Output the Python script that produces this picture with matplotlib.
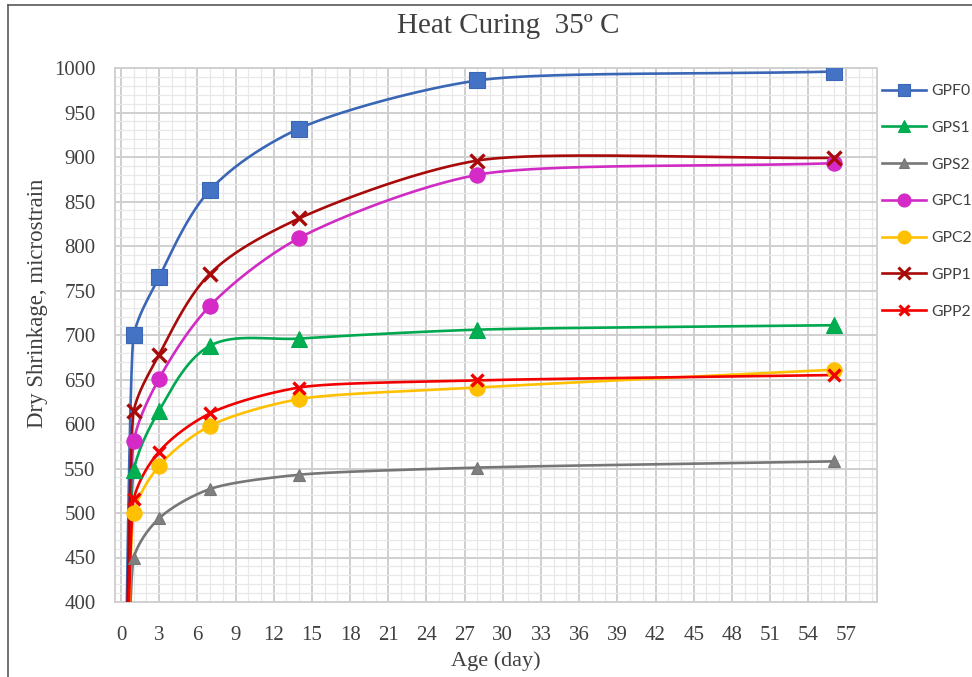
import numpy as np
import matplotlib
matplotlib.use("Agg")
import matplotlib.pyplot as plt
from matplotlib.ticker import MultipleLocator
from matplotlib.lines import Line2D

# ---- data ----
days = [0, 1, 3, 7, 14, 28, 56]
GPF0 = [0, 700, 765, 863, 932, 986, 996]
GPS1 = [0, 548, 615, 688, 696, 706, 711]
GPS2 = [0, 450, 494, 527, 543, 551, 558]
GPC1 = [0, 581, 651, 733, 809, 880, 893]
GPC2 = [0, 500, 553, 598, 628, 641, 661]
GPP1 = [0, 615, 678, 769, 831, 896, 899]
GPP2 = [0, 516, 569, 612, 641, 649, 655]

series_names = ["GPF0", "GPS1", "GPS2", "GPC1", "GPC2", "GPP1", "GPP2"]
series_vals = [GPF0, GPS1, GPS2, GPC1, GPC2, GPP1, GPP2]
line_colors = ["#3A66B6", "#00A84F", "#767676", "#D02CC4", "#FFC000", "#A80A0A", "#F20000"]
face_colors = ["#4472C4", "#00B050", "#7F7F7F", "#D62AC8", "#FFC000", "#A80A0A", "#F20000"]
markers = ["s", "^", "^", "o", "o", "x", "x"]
msizes = [11, 11, 9, 11, 11, 10, 9]

title = "Heat Curing  35º C"
xlabel = "Age (day)"
ylabel = "Dry Shrinkage, microstrain"

XLIM = (-0.47, 59.4)
YLIM = (400, 1000)
AX_W_PX, AX_H_PX = 762, 534


def smooth(xs, ys, n=80, k=1.0 / 3.0):
    """Excel-like smoothed line, computed in screen-proportional space."""
    kx = AX_W_PX / (XLIM[1] - XLIM[0])
    ky = AX_H_PX / (YLIM[1] - YLIM[0])
    P = np.column_stack([np.asarray(xs, float) * kx, np.asarray(ys, float) * ky])
    m = len(P)
    seg = [P[i + 1] - P[i] for i in range(m - 1)]
    slen = [np.linalg.norm(s) for s in seg]
    unit = [s / l for s, l in zip(seg, slen)]
    tang = []
    for i in range(m):
        if i == 0:
            d = unit[0]
        elif i == m - 1:
            d = unit[-1]
        else:
            d = unit[i - 1] + unit[i]
        tang.append(d / np.linalg.norm(d))

    def clen(i, s):
        # control length at point i for segment s
        if i == 0 or i == m - 1:
            return k * slen[s]
        return k * min(slen[i - 1], slen[i])

    out = []
    for i in range(m - 1):
        p1, p2 = P[i], P[i + 1]
        c1 = p1 + tang[i] * clen(i, i)
        c2 = p2 - tang[i + 1] * clen(i + 1, i)
        t = np.linspace(0, 1, n)[:, None]
        b = ((1 - t) ** 3) * p1 + 3 * ((1 - t) ** 2) * t * c1 + 3 * (1 - t) * t ** 2 * c2 + t ** 3 * p2
        out.append(b if i == 0 else b[1:])
    B = np.vstack(out)
    return B[:, 0] / kx, B[:, 1] / ky


plt.rcParams["font.family"] = ["Liberation Serif", "DejaVu Serif"]

fig = plt.figure(figsize=(9.72, 6.77), dpi=100)
ax = fig.add_axes([115 / 972, 1 - 602 / 677, AX_W_PX / 972, AX_H_PX / 677])

for name, vals, lc, fc, mk, ms in zip(series_names, series_vals, line_colors, face_colors, markers, msizes):
    sx, sy = smooth(days, vals)
    ax.plot(sx, sy, color=lc, lw=1.9, solid_capstyle="round", zorder=3)
    if mk == "x":
        ax.plot(days[1:], vals[1:], ls="none", marker=mk, ms=ms, mew=2.4, color=fc, zorder=4)
    else:
        ax.plot(days[1:], vals[1:], ls="none", marker=mk, ms=ms, mfc=fc, mec=lc, mew=0.8, zorder=4)

ax.set_xlim(*XLIM)
ax.set_ylim(*YLIM)
ax.xaxis.set_major_locator(MultipleLocator(3))
ax.xaxis.set_minor_locator(MultipleLocator(1))
ax.yaxis.set_major_locator(MultipleLocator(50))
ax.yaxis.set_minor_locator(MultipleLocator(10))
ax.grid(which="major", color="#CFCFCF", lw=1.4, zorder=0)
ax.grid(which="minor", color="#E8E8E8", lw=0.9, zorder=0)
ax.set_axisbelow(True)
ax.tick_params(which="both", length=0)
ax.tick_params(axis="x", labelsize=15, pad=17, colors="#404040")
ax.tick_params(axis="y", labelsize=15, pad=14, colors="#404040")
for s in ax.spines.values():
    s.set_color("#D0D0D0")
    s.set_linewidth(1.4)

ax.set_xlabel(xlabel, fontsize=16, color="#404040", labelpad=5)
ax.set_ylabel(ylabel, fontsize=16.5, color="#404040")
ax.yaxis.set_label_coords((48 - 115) / AX_W_PX, (602 - 303) / AX_H_PX)
fig.text(508 / 972, 1 - 26 / 677, title, ha="center", va="center", fontsize=21, color="#404040")

handles = []
for name, lc, fc, mk, ms in zip(series_names, line_colors, face_colors, markers, msizes):
    if mk == "x":
        h = Line2D([], [], color=lc, lw=1.9, marker=mk, ms=ms * 0.8, mew=2.2, mec=fc)
    else:
        h = Line2D([], [], color=lc, lw=1.9, marker=mk, ms=ms * 0.85, mfc=fc, mec=lc, mew=0.8)
    handles.append(h)
fig.legend(handles, series_names, loc="upper left", bbox_to_anchor=(882 / 972, 1 - 84 / 677),
           frameon=False, borderpad=0, borderaxespad=0, handlelength=2.8, handletextpad=0.35,
           labelspacing=1.45, prop={"family": ["Lato", "DejaVu Sans"], "size": 11.3},
           labelcolor="#404040")

# outer chart frame (left and top edges visible in reference)
fig.add_artist(Line2D([8 / 972, 8 / 972], [0, 1 - 5 / 677], transform=fig.transFigure, color="#595959", lw=1.2))
fig.add_artist(Line2D([8 / 972, 1], [1 - 5 / 677, 1 - 5 / 677], transform=fig.transFigure, color="#595959", lw=1.2))

fig.savefig("out.png", dpi=100)
